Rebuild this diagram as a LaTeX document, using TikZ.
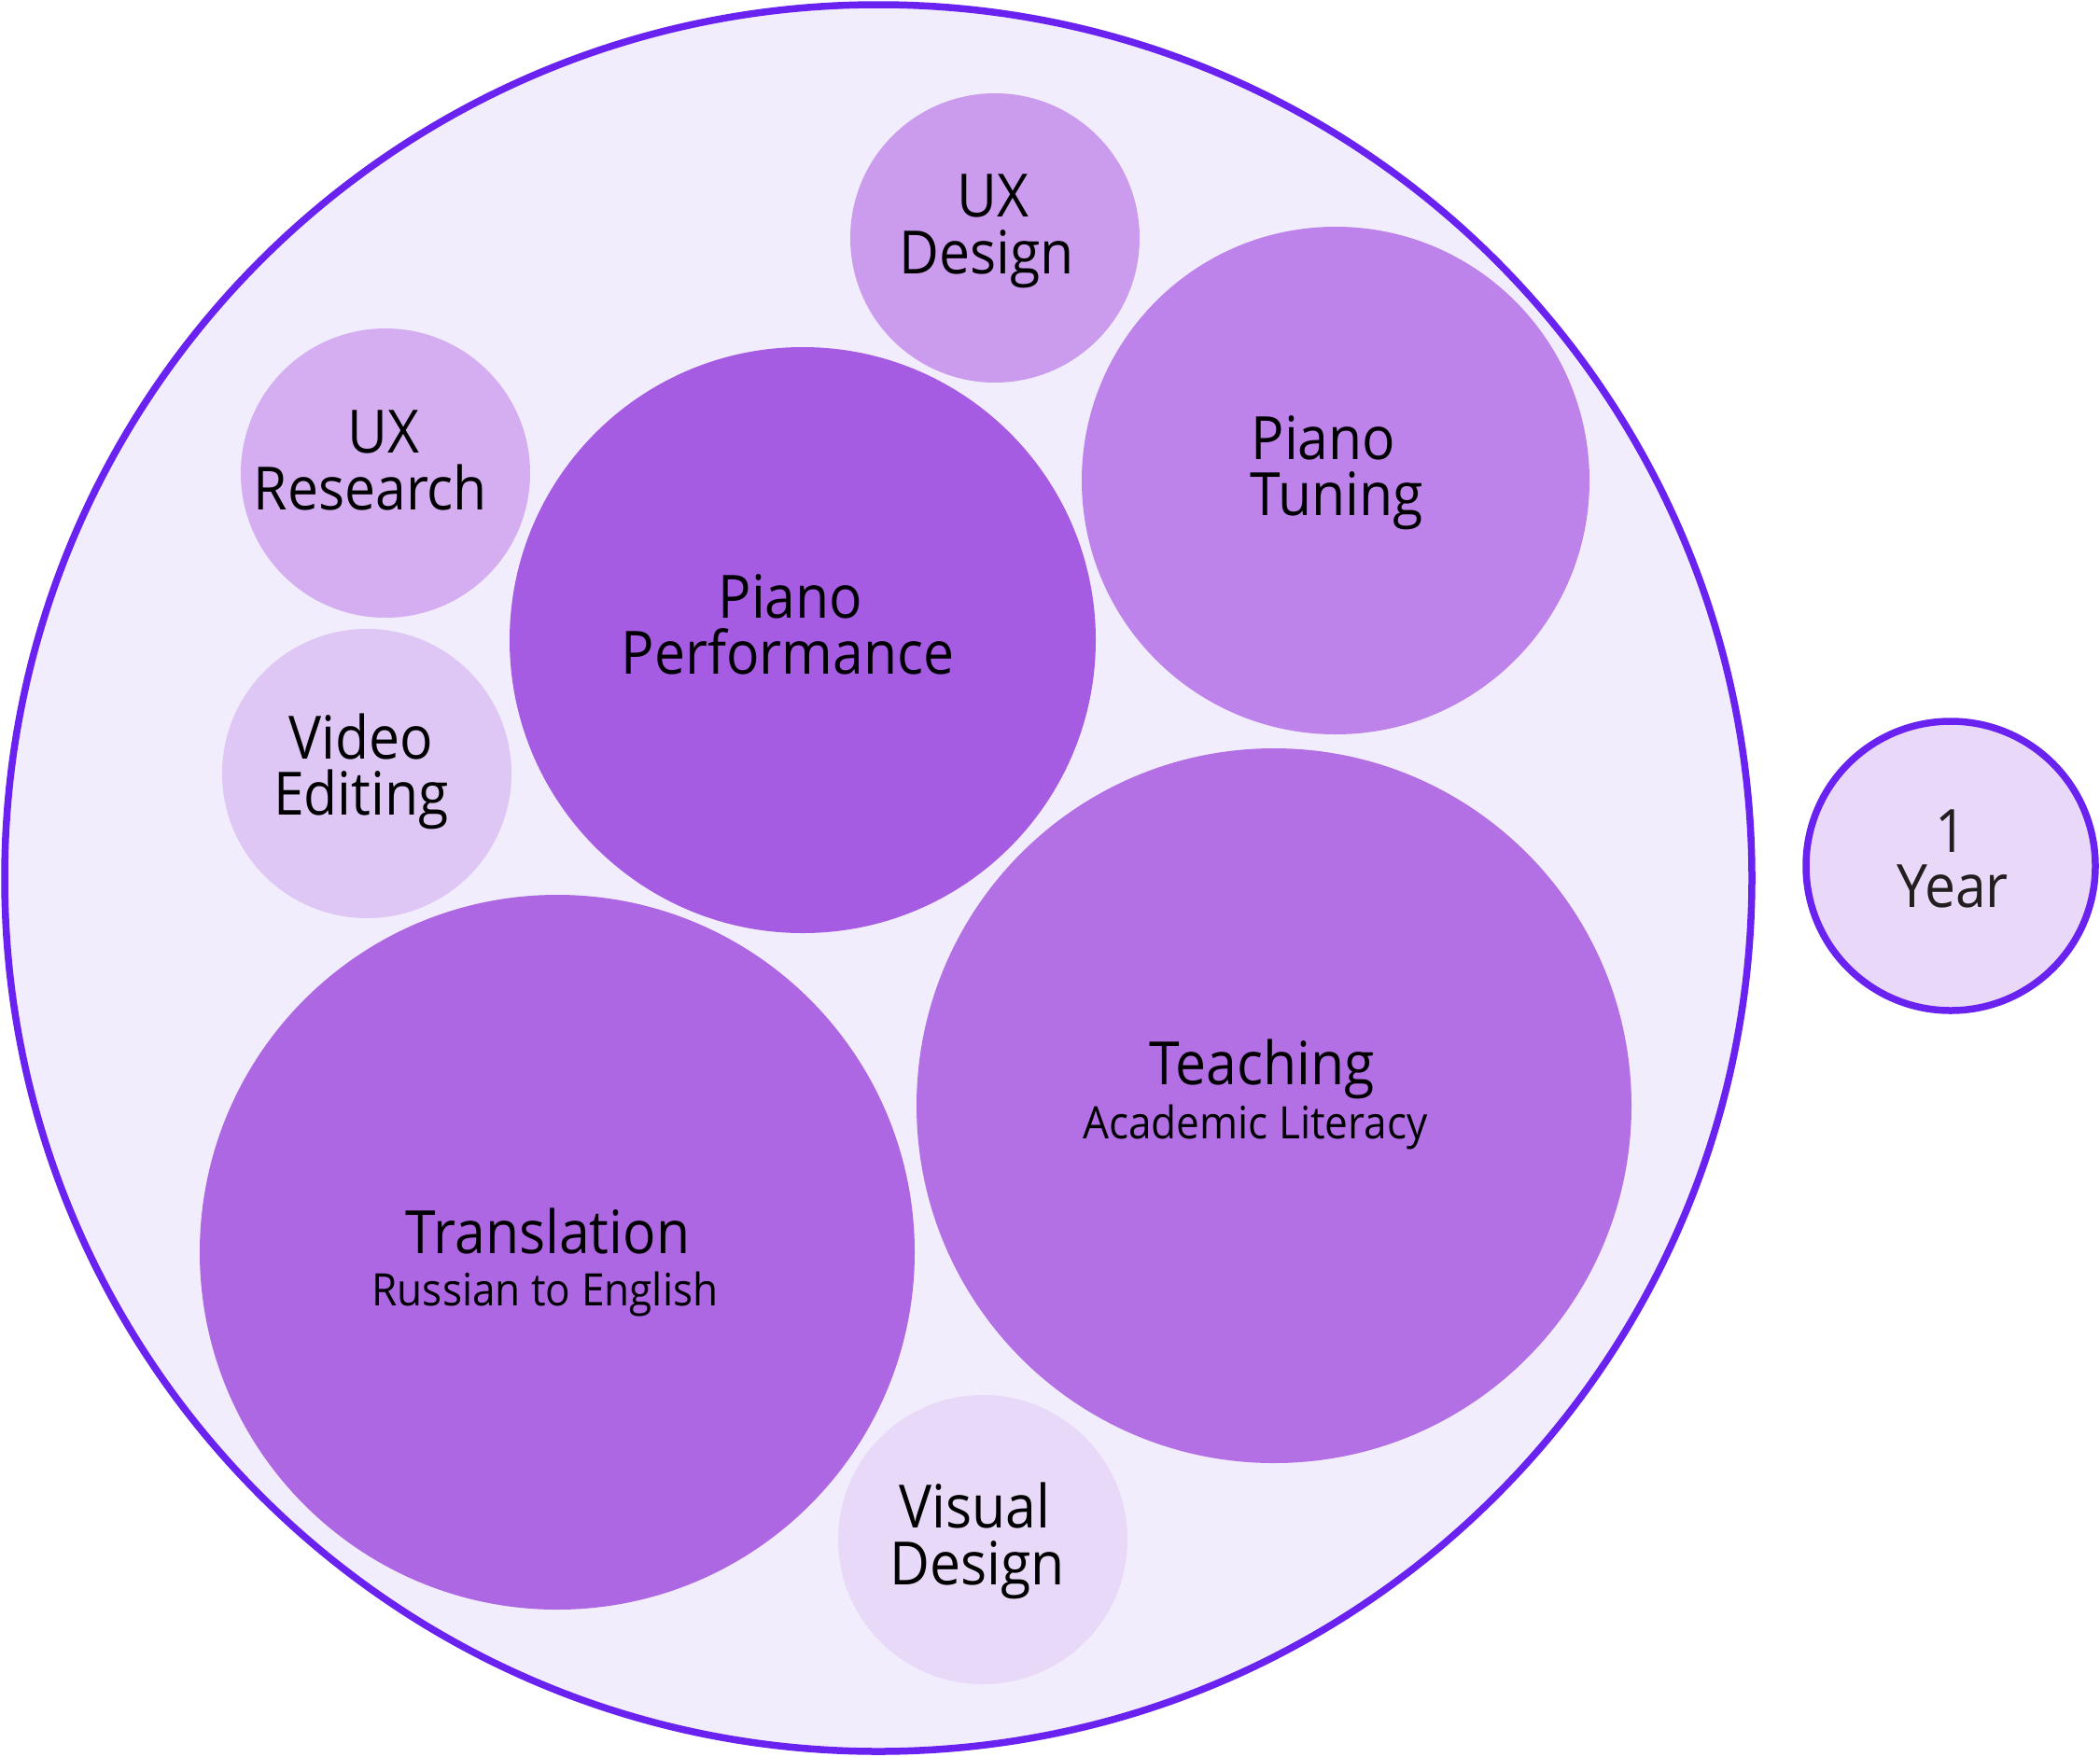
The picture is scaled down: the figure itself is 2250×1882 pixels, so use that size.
\documentclass[tikz,border=0pt]{standalone}
\usepackage{fontspec}
\setmainfont{Open Sans}[FakeStretch=0.92]
\definecolor{ringline}{HTML}{6A22F0}
\definecolor{ringfill}{HTML}{F2EDFD}
\definecolor{cPerf}{HTML}{A55BE2}
\definecolor{cTeach}{HTML}{B370E4}
\definecolor{cTrans}{HTML}{AE67E2}
\definecolor{cTune}{HTML}{BD83EA}
\definecolor{cUXD}{HTML}{CB9CEE}
\definecolor{cUXR}{HTML}{D4AEF0}
\definecolor{cVid}{HTML}{DEC6F5}
\definecolor{cVis}{HTML}{E9D9F8}
\definecolor{cYear}{HTML}{EAD8F8}
\definecolor{yeartext}{HTML}{231F20}
\begin{document}
\begin{tikzpicture}[x=1pt,y=-1pt,
  bubble/.style={circle, inner sep=0pt, outer sep=0pt, draw=none},
  ringed/.style={circle, inner sep=0pt, outer sep=0pt, draw=ringline, line width=7.5pt},
  lbl/.style={anchor=base, inner sep=0pt, text=black, font=\fontsize{64}{64}\selectfont},
  sublbl/.style={anchor=base, inner sep=0pt, text=black, font=\fontsize{48}{48}\selectfont}]
\useasboundingbox (0,0) rectangle (2250,1882);
\fill[white] (0,0) rectangle (2250,1882);

% outer container and the duration badge
\node[ringed, fill=ringfill, minimum size=1872pt] (outer) at (941,941) {};
\node[ringed, fill=cYear, minimum size=310pt] (year) at (2090,928) {};

% skill bubbles
\node[bubble, fill=cUXD,   minimum size=310pt] (uxd)   at (1066,255) {};
\node[bubble, fill=cTune,  minimum size=544pt] (tune)  at (1431,515) {};
\node[bubble, fill=cUXR,   minimum size=310pt] (uxr)   at (413,507) {};
\node[bubble, fill=cPerf,  minimum size=628pt] (perf)  at (860,686) {};
\node[bubble, fill=cVid,   minimum size=310pt] (vid)   at (393,829) {};
\node[bubble, fill=cTeach, minimum size=766pt] (teach) at (1365,1185) {};
\node[bubble, fill=cTrans, minimum size=766pt] (trans) at (597,1342) {};
\node[bubble, fill=cVis,   minimum size=310pt] (vis)   at (1053,1650) {};

% labels
\node[lbl] (uxdA) at (1064,232) {UX};
\node[lbl] (uxdB) at (1057,293) {Design};
\node[lbl] (tuneA) at (1418,492) {Piano};
\node[lbl] (tuneB) at (1432,552) {Tuning};
\node[lbl] (uxrA) at (411,485) {UX};
\node[lbl] (uxrB) at (397,546) {Research};
\node[lbl] (perfA) at (847,662) {Piano};
\node[lbl] (perfB) at (844,722) {Performance};
\node[lbl] (vidA) at (387,813) {Video};
\node[lbl] (vidB) at (387,873) {Editing};
\node[lbl] (teachA) at (1352,1162) {Teaching};
\node[sublbl] (teachB) at (1345,1220) {Academic Literacy};
\node[lbl] (transA) at (587,1343) {Translation};
\node[sublbl] (transB) at (584,1399) {Russian to English};
\node[lbl] (visA) at (1044,1637) {Visual};
\node[lbl] (visB) at (1047,1698) {Design};
\node[lbl, text=yeartext] (yearA) at (2090,913) {1};
\node[lbl, text=yeartext] (yearB) at (2092,972) {Year};
\end{tikzpicture}
\end{document}
